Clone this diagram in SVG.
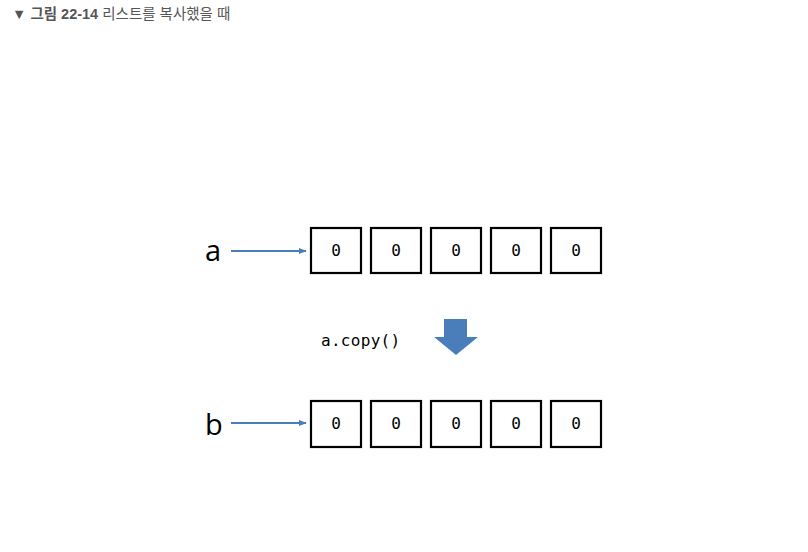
<svg xmlns="http://www.w3.org/2000/svg" width="808" height="552" viewBox="0 0 808 552">
<defs>
<style>
.box{fill:#fff;stroke:#000;stroke-width:2.2}
.zero{font-family:"DejaVu Sans Mono","Liberation Mono",monospace;font-size:16px;fill:#000;text-anchor:middle}
.var{font-family:"Open Sans","DejaVu Sans",sans-serif;font-size:29px;fill:#000}
.ptr{stroke:#4a7ebb;stroke-width:2;fill:none;marker-end:url(#ah)}
.title{font-family:"Liberation Sans","Noto Sans CJK KR",sans-serif;font-size:14.5px;fill:#555}
</style>
<marker id="ah" viewBox="0 0 10 10" refX="9" refY="5" markerWidth="4" markerHeight="4" orient="auto" markerUnits="strokeWidth">
<path d="M0,1 L10,5 L0,9 z" fill="#4a7ebb"/>
</marker>
</defs>
<rect width="808" height="552" fill="#fff"/>
<text class="title" x="12" y="19">▼ <tspan font-weight="bold">그림 22-14</tspan> 리스트를 복사했을 때</text>
<g id="label-a"><text class="var" x="205" y="261">a</text></g>
<g id="label-b"><text class="var" x="205" y="435">b</text></g>
<g id="list-a">
<rect class="box" x="311" y="228" width="50" height="45"/><text class="zero" x="336" y="256">0</text>
<rect class="box" x="371" y="228" width="50" height="45"/><text class="zero" x="396" y="256">0</text>
<rect class="box" x="431" y="228" width="50" height="45"/><text class="zero" x="456" y="256">0</text>
<rect class="box" x="491" y="228" width="50" height="45"/><text class="zero" x="516" y="256">0</text>
<rect class="box" x="551" y="228" width="50" height="45"/><text class="zero" x="576" y="256">0</text>
</g>
<g id="list-b">
<rect class="box" x="311" y="401" width="50" height="46"/><text class="zero" x="336" y="429">0</text>
<rect class="box" x="371" y="401" width="50" height="46"/><text class="zero" x="396" y="429">0</text>
<rect class="box" x="431" y="401" width="50" height="46"/><text class="zero" x="456" y="429">0</text>
<rect class="box" x="491" y="401" width="50" height="46"/><text class="zero" x="516" y="429">0</text>
<rect class="box" x="551" y="401" width="50" height="46"/><text class="zero" x="576" y="429">0</text>
</g>
<g id="copy">
<text x="321" y="346" font-family="DejaVu Sans Mono,Liberation Mono,monospace" font-size="16" letter-spacing="0.3" fill="#000">a.copy()</text>
<path d="M444,319 H467 V337 H478 L456,355 L434,337 H444 Z" fill="#4a7ebb"/>
</g>
<g id="connectors">
<line class="ptr" x1="231" y1="251" x2="306" y2="251"/>
<line class="ptr" x1="231" y1="423" x2="306" y2="423"/>
</g>
</svg>
